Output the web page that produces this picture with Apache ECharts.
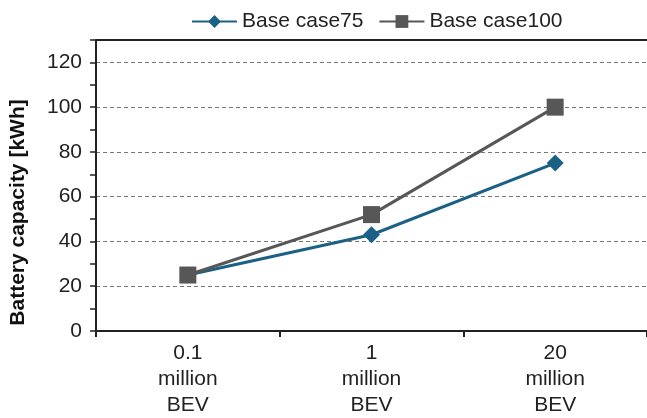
<!DOCTYPE html>
<html><head><meta charset="utf-8">
<script src="https://cdn.jsdelivr.net/npm/echarts@6/dist/echarts.min.js"></script>
<style>html,body{margin:0;padding:0;background:#fff}#c{width:647px;height:418px}</style>
</head><body><div id="c"></div>
<script>
const categories = ['0.1\nmillion\nBEV', '1\nmillion\nBEV', '20\nmillion\nBEV'];
const baseCase75 = [25, 43, 75];
const baseCase100 = [25, 52, 100];
const seriesNames = ['Base case75', 'Base case100'];

const chart = echarts.init(document.getElementById('c'), null, {renderer: 'canvas'});
const font = 'Liberation Sans, Arial, sans-serif';
chart.setOption({
  animation: false,
  textStyle: {fontFamily: font},
  legend: {
    top: 6, left: 186, itemWidth: 45, itemHeight: 16, itemGap: 15,
    textStyle: {fontSize: 21, color: '#222', fontFamily: font},
    data: seriesNames
  },
  grid: {left: 96, right: -10, top: 40, bottom: 84},
  xAxis: [{
    type: 'category', data: categories, boundaryGap: true,
    axisLine: {lineStyle: {color: '#222', width: 2}},
    axisTick: {show: true, length: 6, lineStyle: {color: '#222', width: 2}},
    axisLabel: {fontSize: 21, color: '#222', lineHeight: 26, margin: 9, fontFamily: font}
  }, {
    type: 'category', position: 'top', data: categories,
    axisLine: {show: true, lineStyle: {color: '#222', width: 2}},
    axisTick: {show: false}, axisLabel: {show: false}
  }],
  yAxis: {
    type: 'value', min: 0, max: 130, interval: 10,
    name: 'Battery capacity [kWh]', nameLocation: 'middle', nameGap: 67,
    nameTextStyle: {fontSize: 21, fontWeight: 'bold', color: '#111', fontFamily: font, padding: [0, 54, 0, 0]},
    axisLine: {show: true, lineStyle: {color: '#222', width: 2}},
    axisTick: {show: true, length: 6, lineStyle: {color: '#222', width: 1.5}},
    axisLabel: {fontSize: 21, color: '#222', margin: 14, fontFamily: font,
      formatter: v => (v % 20 === 0 && v <= 120) ? String(v) : ''},
    splitLine: {show: true, lineStyle: {color: ['#777', 'rgba(0,0,0,0)'], type: [4, 3], width: 1}}
  },
  series: [{
    name: seriesNames[0], type: 'line', data: baseCase75,
    symbol: 'diamond', symbolSize: 17,
    lineStyle: {color: '#1a6185', width: 3},
    itemStyle: {color: '#1a6185'}
  }, {
    name: seriesNames[1], type: 'line', data: baseCase100,
    symbol: 'rect', symbolSize: 17,
    lineStyle: {color: '#575757', width: 3},
    itemStyle: {color: '#575757'}
  }]
});
</script></body></html>
